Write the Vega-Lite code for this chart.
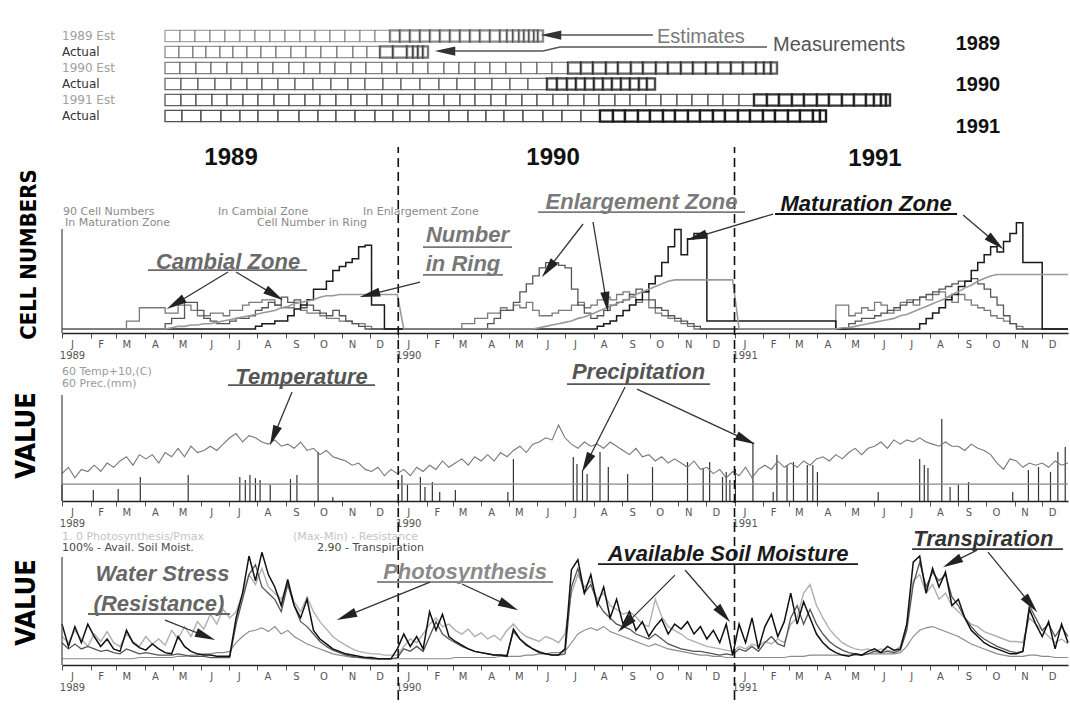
{
"$schema":"https://vega.github.io/schema/vega-lite/v6.json",
"background":"white",
"padding":{"left":11,"top":26,"right":0,"bottom":0},
"spacing":30,
"bounds":"flush",
"config":{"view":{"stroke":null},"axis":{"grid":false},"text":{"font":"Liberation Sans"}},
"datasets":{
"wk":[
{"day":0,"cz":0,"ez":0,"mz":0,"ring":0,"temp":13,"ps":0.20,"res":0.02,"soil":0.30,"tr":0.15},
{"day":7,"cz":0,"ez":0,"mz":0,"ring":0,"temp":16,"ps":0.15,"res":0.02,"soil":0.12,"tr":0.10},
{"day":14,"cz":0,"ez":0,"mz":0,"ring":0,"temp":11,"ps":0.25,"res":0.02,"soil":0.28,"tr":0.14},
{"day":21,"cz":0,"ez":0,"mz":0,"ring":0,"temp":15,"ps":0.18,"res":0.02,"soil":0.15,"tr":0.10},
{"day":28,"cz":0,"ez":0,"mz":0,"ring":0,"temp":14,"ps":0.12,"res":0.02,"soil":0.30,"tr":0.12},
{"day":35,"cz":0,"ez":0,"mz":0,"ring":0,"temp":17,"ps":0.22,"res":0.02,"soil":0.20,"tr":0.10},
{"day":42,"cz":0,"ez":0,"mz":0,"ring":0,"temp":14,"ps":0.16,"res":0.02,"soil":0.12,"tr":0.08},
{"day":49,"cz":0,"ez":0,"mz":0,"ring":0,"temp":18,"ps":0.24,"res":0.02,"soil":0.18,"tr":0.09},
{"day":56,"cz":0,"ez":0,"mz":0,"ring":0,"temp":16,"ps":0.15,"res":0.02,"soil":0.10,"tr":0.07},
{"day":63,"cz":0,"ez":0,"mz":0,"ring":0,"temp":19,"ps":0.12,"res":0.02,"soil":0.08,"tr":0.06},
{"day":70,"cz":6,"ez":0,"mz":0,"ring":0,"temp":21,"ps":0.22,"res":0.02,"soil":0.25,"tr":0.10},
{"day":77,"cz":6,"ez":0,"mz":0,"ring":0,"temp":17,"ps":0.16,"res":0.02,"soil":0.15,"tr":0.08},
{"day":84,"cz":16,"ez":0,"mz":0,"ring":0,"temp":22,"ps":0.12,"res":0.03,"soil":0.11,"tr":0.06},
{"day":91,"cz":16,"ez":0,"mz":0,"ring":0,"temp":20,"ps":0.20,"res":0.03,"soil":0.09,"tr":0.07},
{"day":98,"cz":16,"ez":0,"mz":0,"ring":0,"temp":22,"ps":0.14,"res":0.03,"soil":0.14,"tr":0.06},
{"day":105,"cz":16,"ez":0,"mz":0,"ring":0,"temp":18,"ps":0.18,"res":0.03,"soil":0.10,"tr":0.05},
{"day":112,"cz":12,"ez":4,"mz":0,"ring":0,"temp":23,"ps":0.13,"res":0.03,"soil":0.07,"tr":0.05},
{"day":119,"cz":12,"ez":8,"mz":0,"ring":1,"temp":21,"ps":0.25,"res":0.03,"soil":0.06,"tr":0.05},
{"day":126,"cz":18,"ez":8,"mz":0,"ring":2,"temp":25,"ps":0.18,"res":0.04,"soil":0.20,"tr":0.06},
{"day":133,"cz":18,"ez":20,"mz":0,"ring":2,"temp":21,"ps":0.28,"res":0.04,"soil":0.12,"tr":0.05},
{"day":140,"cz":14,"ez":20,"mz":0,"ring":3,"temp":26,"ps":0.20,"res":0.05,"soil":0.08,"tr":0.04},
{"day":147,"cz":10,"ez":14,"mz":0,"ring":3,"temp":23,"ps":0.32,"res":0.05,"soil":0.06,"tr":0.04},
{"day":154,"cz":10,"ez":8,"mz":0,"ring":4,"temp":24,"ps":0.26,"res":0.06,"soil":0.05,"tr":0.04},
{"day":161,"cz":12,"ez":6,"mz":0,"ring":4,"temp":26,"ps":0.38,"res":0.06,"soil":0.05,"tr":0.03},
{"day":168,"cz":12,"ez":4,"mz":0,"ring":5,"temp":24,"ps":0.30,"res":0.07,"soil":0.04,"tr":0.03},
{"day":175,"cz":10,"ez":4,"mz":0,"ring":6,"temp":27,"ps":0.42,"res":0.07,"soil":0.04,"tr":0.03},
{"day":182,"cz":14,"ez":6,"mz":0,"ring":7,"temp":30,"ps":0.35,"res":0.08,"soil":0.04,"tr":0.03},
{"day":189,"cz":14,"ez":8,"mz":0,"ring":8,"temp":32,"ps":0.40,"res":0.15,"soil":0.35,"tr":0.30},
{"day":196,"cz":18,"ez":8,"mz":0,"ring":9,"temp":28,"ps":0.55,"res":0.20,"soil":0.55,"tr":0.50},
{"day":203,"cz":20,"ez":10,"mz":0,"ring":10,"temp":31,"ps":0.70,"res":0.24,"soil":0.85,"tr":0.70},
{"day":210,"cz":20,"ez":14,"mz":2,"ring":11,"temp":30,"ps":0.62,"res":0.25,"soil":0.65,"tr":0.78},
{"day":217,"cz":22,"ez":16,"mz":4,"ring":12,"temp":28,"ps":0.75,"res":0.27,"soil":0.88,"tr":0.60},
{"day":224,"cz":22,"ez":20,"mz":4,"ring":13,"temp":27,"ps":0.60,"res":0.24,"soil":0.70,"tr":0.55},
{"day":231,"cz":18,"ez":18,"mz":6,"ring":14,"temp":29,"ps":0.55,"res":0.28,"soil":0.60,"tr":0.50},
{"day":238,"cz":16,"ez":24,"mz":6,"ring":16,"temp":26,"ps":0.50,"res":0.22,"soil":0.45,"tr":0.40},
{"day":245,"cz":16,"ez":20,"mz":10,"ring":17,"temp":27,"ps":0.62,"res":0.25,"soil":0.66,"tr":0.62},
{"day":252,"cz":20,"ez":22,"mz":15,"ring":19,"temp":25,"ps":0.48,"res":0.20,"soil":0.45,"tr":0.45},
{"day":259,"cz":14,"ez":16,"mz":18,"ring":20,"temp":28,"ps":0.40,"res":0.17,"soil":0.35,"tr":0.32},
{"day":266,"cz":12,"ez":18,"mz":22,"ring":21,"temp":24,"ps":0.52,"res":0.14,"soil":0.50,"tr":0.28},
{"day":273,"cz":12,"ez":14,"mz":30,"ring":22,"temp":25,"ps":0.40,"res":0.12,"soil":0.25,"tr":0.22},
{"day":280,"cz":10,"ez":12,"mz":30,"ring":24,"temp":22,"ps":0.32,"res":0.10,"soil":0.18,"tr":0.16},
{"day":287,"cz":8,"ez":10,"mz":36,"ring":25,"temp":24,"ps":0.26,"res":0.08,"soil":0.14,"tr":0.12},
{"day":294,"cz":8,"ez":14,"mz":44,"ring":25,"temp":21,"ps":0.20,"res":0.06,"soil":0.10,"tr":0.09},
{"day":301,"cz":6,"ez":10,"mz":47,"ring":26,"temp":20,"ps":0.16,"res":0.05,"soil":0.08,"tr":0.07},
{"day":308,"cz":6,"ez":6,"mz":50,"ring":26,"temp":19,"ps":0.13,"res":0.04,"soil":0.06,"tr":0.05},
{"day":315,"cz":4,"ez":4,"mz":53,"ring":26,"temp":17,"ps":0.10,"res":0.03,"soil":0.05,"tr":0.04},
{"day":322,"cz":4,"ez":2,"mz":62,"ring":26,"temp":18,"ps":0.08,"res":0.03,"soil":0.04,"tr":0.03},
{"day":329,"cz":2,"ez":0,"mz":63,"ring":26,"temp":15,"ps":0.07,"res":0.02,"soil":0.03,"tr":0.03},
{"day":336,"cz":0,"ez":0,"mz":18,"ring":26,"temp":14,"ps":0.06,"res":0.02,"soil":0.03,"tr":0.02},
{"day":343,"cz":0,"ez":0,"mz":18,"ring":26,"temp":16,"ps":0.06,"res":0.02,"soil":0.02,"tr":0.02},
{"day":350,"cz":0,"ez":0,"mz":0,"ring":26,"temp":12,"ps":0.05,"res":0.02,"soil":0.02,"tr":0.02},
{"day":357,"cz":0,"ez":0,"mz":0,"ring":26,"temp":15,"ps":0.05,"res":0.02,"soil":0.02,"tr":0.02},
{"day":364,"cz":0,"ez":0,"mz":0,"ring":26,"temp":13,"ps":0.05,"res":0.02,"soil":0.10,"tr":0.03},
{"day":371,"cz":0,"ez":0,"mz":0,"ring":0,"temp":15,"ps":0.12,"res":0.02,"soil":0.22,"tr":0.10},
{"day":378,"cz":0,"ez":0,"mz":0,"ring":0,"temp":12,"ps":0.18,"res":0.02,"soil":0.12,"tr":0.08},
{"day":385,"cz":0,"ez":0,"mz":0,"ring":0,"temp":16,"ps":0.15,"res":0.02,"soil":0.20,"tr":0.12},
{"day":392,"cz":0,"ez":0,"mz":0,"ring":0,"temp":14,"ps":0.22,"res":0.02,"soil":0.10,"tr":0.08},
{"day":399,"cz":0,"ez":0,"mz":0,"ring":0,"temp":17,"ps":0.30,"res":0.02,"soil":0.40,"tr":0.20},
{"day":406,"cz":0,"ez":0,"mz":0,"ring":0,"temp":15,"ps":0.35,"res":0.02,"soil":0.25,"tr":0.32},
{"day":413,"cz":0,"ez":0,"mz":0,"ring":0,"temp":19,"ps":0.28,"res":0.02,"soil":0.38,"tr":0.22},
{"day":420,"cz":0,"ez":0,"mz":0,"ring":0,"temp":16,"ps":0.30,"res":0.02,"soil":0.20,"tr":0.18},
{"day":427,"cz":0,"ez":0,"mz":0,"ring":0,"temp":18,"ps":0.25,"res":0.03,"soil":0.16,"tr":0.15},
{"day":434,"cz":4,"ez":0,"mz":0,"ring":0,"temp":20,"ps":0.22,"res":0.03,"soil":0.13,"tr":0.12},
{"day":441,"cz":4,"ez":0,"mz":0,"ring":0,"temp":17,"ps":0.26,"res":0.03,"soil":0.10,"tr":0.10},
{"day":448,"cz":8,"ez":0,"mz":0,"ring":0,"temp":21,"ps":0.20,"res":0.03,"soil":0.08,"tr":0.08},
{"day":455,"cz":8,"ez":0,"mz":0,"ring":0,"temp":19,"ps":0.23,"res":0.03,"soil":0.07,"tr":0.07},
{"day":462,"cz":12,"ez":4,"mz":0,"ring":0,"temp":22,"ps":0.18,"res":0.03,"soil":0.06,"tr":0.06},
{"day":469,"cz":12,"ez":8,"mz":0,"ring":0,"temp":19,"ps":0.21,"res":0.03,"soil":0.05,"tr":0.05},
{"day":476,"cz":16,"ez":14,"mz":0,"ring":0,"temp":23,"ps":0.17,"res":0.04,"soil":0.05,"tr":0.05},
{"day":483,"cz":14,"ez":14,"mz":0,"ring":0,"temp":21,"ps":0.25,"res":0.04,"soil":0.04,"tr":0.05},
{"day":490,"cz":18,"ez":20,"mz":0,"ring":0,"temp":24,"ps":0.30,"res":0.04,"soil":0.26,"tr":0.24},
{"day":497,"cz":16,"ez":28,"mz":0,"ring":0,"temp":26,"ps":0.24,"res":0.04,"soil":0.18,"tr":0.18},
{"day":504,"cz":20,"ez":34,"mz":0,"ring":0,"temp":23,"ps":0.20,"res":0.05,"soil":0.13,"tr":0.14},
{"day":511,"cz":14,"ez":40,"mz":0,"ring":0,"temp":27,"ps":0.18,"res":0.05,"soil":0.10,"tr":0.10},
{"day":518,"cz":10,"ez":46,"mz":0,"ring":1,"temp":28,"ps":0.16,"res":0.06,"soil":0.07,"tr":0.08},
{"day":525,"cz":10,"ez":50,"mz":0,"ring":2,"temp":30,"ps":0.20,"res":0.06,"soil":0.06,"tr":0.06},
{"day":532,"cz":12,"ez":50,"mz":0,"ring":3,"temp":29,"ps":0.18,"res":0.07,"soil":0.05,"tr":0.05},
{"day":539,"cz":14,"ez":48,"mz":0,"ring":4,"temp":36,"ps":0.15,"res":0.07,"soil":0.05,"tr":0.05},
{"day":546,"cz":14,"ez":46,"mz":0,"ring":5,"temp":30,"ps":0.22,"res":0.08,"soil":0.10,"tr":0.06},
{"day":553,"cz":18,"ez":30,"mz":0,"ring":6,"temp":27,"ps":0.55,"res":0.15,"soil":0.74,"tr":0.60},
{"day":560,"cz":20,"ez":18,"mz":0,"ring":8,"temp":25,"ps":0.70,"res":0.22,"soil":0.82,"tr":0.75},
{"day":567,"cz":16,"ez":12,"mz":0,"ring":9,"temp":28,"ps":0.60,"res":0.25,"soil":0.55,"tr":0.55},
{"day":574,"cz":18,"ez":8,"mz":0,"ring":11,"temp":26,"ps":0.65,"res":0.27,"soil":0.70,"tr":0.62},
{"day":581,"cz":22,"ez":10,"mz":2,"ring":13,"temp":27,"ps":0.50,"res":0.25,"soil":0.45,"tr":0.48},
{"day":588,"cz":24,"ez":14,"mz":4,"ring":15,"temp":25,"ps":0.55,"res":0.28,"soil":0.60,"tr":0.40},
{"day":595,"cz":22,"ez":18,"mz":6,"ring":17,"temp":28,"ps":0.45,"res":0.24,"soil":0.35,"tr":0.35},
{"day":602,"cz":26,"ez":20,"mz":10,"ring":19,"temp":26,"ps":0.42,"res":0.22,"soil":0.50,"tr":0.30},
{"day":609,"cz":28,"ez":22,"mz":14,"ring":21,"temp":24,"ps":0.38,"res":0.20,"soil":0.30,"tr":0.28},
{"day":616,"cz":24,"ez":26,"mz":18,"ring":23,"temp":22,"ps":0.40,"res":0.18,"soil":0.40,"tr":0.26},
{"day":623,"cz":20,"ez":30,"mz":22,"ring":26,"temp":25,"ps":0.36,"res":0.16,"soil":0.25,"tr":0.22},
{"day":630,"cz":22,"ez":28,"mz":28,"ring":28,"temp":21,"ps":0.30,"res":0.14,"soil":0.32,"tr":0.20},
{"day":637,"cz":16,"ez":22,"mz":34,"ring":30,"temp":22,"ps":0.28,"res":0.12,"soil":0.20,"tr":0.18},
{"day":644,"cz":12,"ez":16,"mz":40,"ring":32,"temp":19,"ps":0.50,"res":0.14,"soil":0.28,"tr":0.22},
{"day":651,"cz":10,"ez":14,"mz":50,"ring":34,"temp":21,"ps":0.36,"res":0.12,"soil":0.34,"tr":0.18},
{"day":658,"cz":8,"ez":10,"mz":62,"ring":36,"temp":18,"ps":0.28,"res":0.10,"soil":0.22,"tr":0.14},
{"day":665,"cz":6,"ez":8,"mz":75,"ring":37,"temp":20,"ps":0.25,"res":0.09,"soil":0.30,"tr":0.12},
{"day":672,"cz":4,"ez":6,"mz":56,"ring":37,"temp":18,"ps":0.22,"res":0.08,"soil":0.26,"tr":0.10},
{"day":679,"cz":2,"ez":4,"mz":68,"ring":37,"temp":16,"ps":0.18,"res":0.07,"soil":0.32,"tr":0.09},
{"day":686,"cz":0,"ez":2,"mz":72,"ring":37,"temp":19,"ps":0.16,"res":0.06,"soil":0.22,"tr":0.08},
{"day":693,"cz":0,"ez":0,"mz":72,"ring":37,"temp":15,"ps":0.14,"res":0.05,"soil":0.28,"tr":0.08},
{"day":700,"cz":0,"ez":0,"mz":6,"ring":37,"temp":16,"ps":0.12,"res":0.05,"soil":0.18,"tr":0.07},
{"day":707,"cz":0,"ez":0,"mz":6,"ring":37,"temp":13,"ps":0.11,"res":0.04,"soil":0.25,"tr":0.06},
{"day":714,"cz":0,"ez":0,"mz":6,"ring":37,"temp":15,"ps":0.10,"res":0.04,"soil":0.15,"tr":0.05},
{"day":721,"cz":0,"ez":0,"mz":6,"ring":37,"temp":11,"ps":0.09,"res":0.03,"soil":0.30,"tr":0.06},
{"day":728,"cz":0,"ez":0,"mz":6,"ring":37,"temp":14,"ps":0.08,"res":0.03,"soil":0.05,"tr":0.05},
{"day":735,"cz":0,"ez":0,"mz":6,"ring":0,"temp":12,"ps":0.12,"res":0.03,"soil":0.30,"tr":0.10},
{"day":742,"cz":0,"ez":0,"mz":6,"ring":0,"temp":16,"ps":0.10,"res":0.03,"soil":0.15,"tr":0.08},
{"day":749,"cz":0,"ez":0,"mz":6,"ring":0,"temp":11,"ps":0.14,"res":0.03,"soil":0.35,"tr":0.12},
{"day":756,"cz":0,"ez":0,"mz":6,"ring":0,"temp":15,"ps":0.12,"res":0.03,"soil":0.10,"tr":0.08},
{"day":763,"cz":0,"ez":0,"mz":6,"ring":0,"temp":17,"ps":0.16,"res":0.03,"soil":0.28,"tr":0.15},
{"day":770,"cz":0,"ez":0,"mz":6,"ring":0,"temp":15,"ps":0.14,"res":0.03,"soil":0.38,"tr":0.20},
{"day":777,"cz":0,"ez":0,"mz":6,"ring":0,"temp":19,"ps":0.18,"res":0.03,"soil":0.20,"tr":0.14},
{"day":784,"cz":0,"ez":0,"mz":6,"ring":0,"temp":16,"ps":0.15,"res":0.03,"soil":0.32,"tr":0.12},
{"day":791,"cz":0,"ez":0,"mz":6,"ring":0,"temp":18,"ps":0.30,"res":0.04,"soil":0.55,"tr":0.35},
{"day":798,"cz":0,"ez":0,"mz":6,"ring":0,"temp":16,"ps":0.35,"res":0.04,"soil":0.30,"tr":0.45},
{"day":805,"cz":0,"ez":0,"mz":6,"ring":0,"temp":19,"ps":0.55,"res":0.04,"soil":0.48,"tr":0.30},
{"day":812,"cz":0,"ez":0,"mz":6,"ring":0,"temp":17,"ps":0.62,"res":0.05,"soil":0.35,"tr":0.42},
{"day":819,"cz":0,"ez":0,"mz":6,"ring":0,"temp":20,"ps":0.45,"res":0.05,"soil":0.22,"tr":0.30},
{"day":826,"cz":0,"ez":0,"mz":6,"ring":0,"temp":21,"ps":0.35,"res":0.05,"soil":0.15,"tr":0.22},
{"day":833,"cz":0,"ez":0,"mz":6,"ring":0,"temp":19,"ps":0.26,"res":0.05,"soil":0.10,"tr":0.16},
{"day":840,"cz":18,"ez":0,"mz":0,"ring":0,"temp":22,"ps":0.20,"res":0.05,"soil":0.07,"tr":0.12},
{"day":847,"cz":18,"ez":0,"mz":0,"ring":1,"temp":20,"ps":0.15,"res":0.05,"soil":0.05,"tr":0.09},
{"day":854,"cz":10,"ez":4,"mz":0,"ring":1,"temp":23,"ps":0.12,"res":0.05,"soil":0.04,"tr":0.07},
{"day":861,"cz":12,"ez":6,"mz":0,"ring":2,"temp":25,"ps":0.10,"res":0.05,"soil":0.06,"tr":0.06},
{"day":868,"cz":16,"ez":8,"mz":0,"ring":3,"temp":22,"ps":0.09,"res":0.05,"soil":0.05,"tr":0.05},
{"day":875,"cz":14,"ez":8,"mz":0,"ring":4,"temp":25,"ps":0.10,"res":0.06,"soil":0.08,"tr":0.06},
{"day":882,"cz":20,"ez":10,"mz":0,"ring":5,"temp":26,"ps":0.08,"res":0.06,"soil":0.10,"tr":0.08},
{"day":889,"cz":18,"ez":12,"mz":0,"ring":6,"temp":28,"ps":0.10,"res":0.06,"soil":0.07,"tr":0.07},
{"day":896,"cz":12,"ez":14,"mz":0,"ring":7,"temp":25,"ps":0.09,"res":0.06,"soil":0.12,"tr":0.08},
{"day":903,"cz":14,"ez":16,"mz":0,"ring":8,"temp":29,"ps":0.08,"res":0.06,"soil":0.09,"tr":0.07},
{"day":910,"cz":20,"ez":18,"mz":0,"ring":10,"temp":27,"ps":0.12,"res":0.07,"soil":0.10,"tr":0.09},
{"day":917,"cz":22,"ez":20,"mz":0,"ring":11,"temp":29,"ps":0.30,"res":0.12,"soil":0.30,"tr":0.25},
{"day":924,"cz":18,"ez":22,"mz":0,"ring":13,"temp":28,"ps":0.65,"res":0.20,"soil":0.80,"tr":0.62},
{"day":931,"cz":24,"ez":24,"mz":4,"ring":15,"temp":30,"ps":0.70,"res":0.25,"soil":0.85,"tr":0.80},
{"day":938,"cz":22,"ez":26,"mz":8,"ring":17,"temp":28,"ps":0.55,"res":0.27,"soil":0.55,"tr":0.60},
{"day":945,"cz":26,"ez":28,"mz":12,"ring":19,"temp":27,"ps":0.62,"res":0.28,"soil":0.75,"tr":0.72},
{"day":952,"cz":28,"ez":30,"mz":16,"ring":21,"temp":26,"ps":0.50,"res":0.26,"soil":0.60,"tr":0.65},
{"day":959,"cz":24,"ez":32,"mz":22,"ring":23,"temp":28,"ps":0.55,"res":0.24,"soil":0.72,"tr":0.70},
{"day":966,"cz":20,"ez":34,"mz":26,"ring":26,"temp":26,"ps":0.45,"res":0.22,"soil":0.45,"tr":0.52},
{"day":973,"cz":26,"ez":36,"mz":32,"ring":28,"temp":26,"ps":0.40,"res":0.20,"soil":0.50,"tr":0.45},
{"day":980,"cz":22,"ez":36,"mz":36,"ring":31,"temp":24,"ps":0.35,"res":0.17,"soil":0.35,"tr":0.35},
{"day":987,"cz":18,"ez":38,"mz":44,"ring":33,"temp":27,"ps":0.30,"res":0.14,"soil":0.25,"tr":0.28},
{"day":994,"cz":16,"ez":34,"mz":50,"ring":36,"temp":25,"ps":0.28,"res":0.12,"soil":0.20,"tr":0.22},
{"day":1001,"cz":14,"ez":30,"mz":56,"ring":38,"temp":24,"ps":0.24,"res":0.10,"soil":0.15,"tr":0.18},
{"day":1008,"cz":10,"ez":24,"mz":62,"ring":40,"temp":22,"ps":0.22,"res":0.08,"soil":0.12,"tr":0.15},
{"day":1015,"cz":8,"ez":18,"mz":58,"ring":41,"temp":18,"ps":0.20,"res":0.06,"soil":0.10,"tr":0.12},
{"day":1022,"cz":6,"ez":10,"mz":66,"ring":41,"temp":15,"ps":0.18,"res":0.05,"soil":0.08,"tr":0.10},
{"day":1029,"cz":4,"ez":4,"mz":72,"ring":41,"temp":20,"ps":0.16,"res":0.04,"soil":0.06,"tr":0.08},
{"day":1036,"cz":2,"ez":0,"mz":80,"ring":41,"temp":19,"ps":0.16,"res":0.04,"soil":0.06,"tr":0.07},
{"day":1043,"cz":0,"ez":0,"mz":50,"ring":41,"temp":16,"ps":0.15,"res":0.04,"soil":0.08,"tr":0.08},
{"day":1050,"cz":0,"ez":0,"mz":50,"ring":41,"temp":18,"ps":0.35,"res":0.05,"soil":0.42,"tr":0.45},
{"day":1057,"cz":0,"ez":0,"mz":50,"ring":41,"temp":17,"ps":0.30,"res":0.05,"soil":0.30,"tr":0.35},
{"day":1064,"cz":0,"ez":0,"mz":0,"ring":41,"temp":18,"ps":0.25,"res":0.04,"soil":0.20,"tr":0.25},
{"day":1071,"cz":0,"ez":0,"mz":0,"ring":41,"temp":16,"ps":0.20,"res":0.04,"soil":0.32,"tr":0.30},
{"day":1078,"cz":0,"ez":0,"mz":0,"ring":41,"temp":19,"ps":0.15,"res":0.03,"soil":0.10,"tr":0.20},
{"day":1085,"cz":0,"ez":0,"mz":0,"ring":41,"temp":17,"ps":0.18,"res":0.03,"soil":0.30,"tr":0.28},
{"day":1092,"cz":0,"ez":0,"mz":0,"ring":41,"temp":18,"ps":0.14,"res":0.03,"soil":0.15,"tr":0.20}
],
"prec":[
{"day":0,"prec":7.6},{"day":34,"prec":5.2},{"day":61,"prec":5.7},{"day":85,"prec":11.4},{"day":137,"prec":12.3},
{"day":193,"prec":11.4},{"day":199,"prec":10},{"day":204,"prec":12.3},{"day":210,"prec":10.9},{"day":215,"prec":10},
{"day":226,"prec":7.6},{"day":248,"prec":10.4},{"day":255,"prec":12.3},{"day":278,"prec":23.2},{"day":294,"prec":1.9},
{"day":369,"prec":12.3},{"day":375,"prec":7.6},{"day":389,"prec":11.4},{"day":394,"prec":6.6},{"day":402,"prec":9},
{"day":410,"prec":4.3},{"day":427,"prec":5.2},{"day":484,"prec":4.3},{"day":490,"prec":19.9},{"day":555,"prec":20.9},
{"day":559,"prec":17.6},{"day":565,"prec":14.7},{"day":570,"prec":12.8},{"day":584,"prec":23.2},{"day":593,"prec":16.1},
{"day":614,"prec":12.8},{"day":641,"prec":16.1},{"day":679,"prec":18.5},{"day":696,"prec":15.2},{"day":703,"prec":18.5},
{"day":717,"prec":11.4},{"day":721,"prec":13.8},{"day":725,"prec":10},{"day":731,"prec":15.2},{"day":750,"prec":28},
{"day":772,"prec":4.3},{"day":776,"prec":21.8},{"day":787,"prec":17.1},{"day":794,"prec":18.5},{"day":809,"prec":17.1},
{"day":815,"prec":17.1},{"day":820,"prec":13.8},{"day":886,"prec":4.3},{"day":931,"prec":19.9},{"day":936,"prec":17.1},
{"day":940,"prec":15.7},{"day":955,"prec":38.9},{"day":964,"prec":6.6},{"day":973,"prec":7.6},{"day":984,"prec":9},
{"day":1032,"prec":4.3},{"day":1049,"prec":14.7},{"day":1060,"prec":16.1},{"day":1073,"prec":13.8},{"day":1081,"prec":23.2},
{"day":1089,"prec":25.6}
],
"cells":[
{"row":"r1","i":1,"w":15,"wood":"early"},{"row":"r1","i":2,"w":15,"wood":"early"},{"row":"r1","i":3,"w":15,"wood":"early"},{"row":"r1","i":4,"w":15,"wood":"early"},{"row":"r1","i":5,"w":15,"wood":"early"},{"row":"r1","i":6,"w":15,"wood":"early"},{"row":"r1","i":7,"w":15,"wood":"early"},{"row":"r1","i":8,"w":15,"wood":"early"},{"row":"r1","i":9,"w":15,"wood":"early"},{"row":"r1","i":10,"w":15,"wood":"early"},{"row":"r1","i":11,"w":15,"wood":"early"},{"row":"r1","i":12,"w":15,"wood":"early"},{"row":"r1","i":13,"w":15,"wood":"early"},{"row":"r1","i":14,"w":15,"wood":"early"},{"row":"r1","i":15,"w":15,"wood":"early"},
{"row":"r1","i":16,"w":10,"wood":"late"},{"row":"r1","i":17,"w":10,"wood":"late"},{"row":"r1","i":18,"w":10,"wood":"late"},{"row":"r1","i":19,"w":10,"wood":"late"},{"row":"r1","i":20,"w":10,"wood":"late"},{"row":"r1","i":21,"w":10,"wood":"late"},{"row":"r1","i":22,"w":10,"wood":"late"},{"row":"r1","i":23,"w":10,"wood":"late"},{"row":"r1","i":24,"w":10,"wood":"late"},{"row":"r1","i":25,"w":10,"wood":"late"},{"row":"r1","i":26,"w":10,"wood":"late"},
{"row":"r1","i":27,"w":7,"wood":"late"},{"row":"r1","i":28,"w":6,"wood":"late"},{"row":"r1","i":29,"w":6,"wood":"late"},{"row":"r1","i":30,"w":5,"wood":"late"},{"row":"r1","i":31,"w":5,"wood":"late"},{"row":"r1","i":32,"w":5,"wood":"late"},{"row":"r1","i":33,"w":4,"wood":"late"},{"row":"r1","i":34,"w":5,"wood":"late"},
{"row":"r2","i":1,"w":14,"wood":"early"},{"row":"r2","i":2,"w":14,"wood":"early"},{"row":"r2","i":3,"w":13,"wood":"early"},{"row":"r2","i":4,"w":14,"wood":"early"},{"row":"r2","i":5,"w":13,"wood":"early"},{"row":"r2","i":6,"w":14,"wood":"early"},{"row":"r2","i":7,"w":14,"wood":"early"},{"row":"r2","i":8,"w":15,"wood":"early"},{"row":"r2","i":9,"w":15,"wood":"early"},{"row":"r2","i":10,"w":15,"wood":"early"},{"row":"r2","i":11,"w":15,"wood":"early"},{"row":"r2","i":12,"w":16,"wood":"early"},{"row":"r2","i":13,"w":16,"wood":"early"},{"row":"r2","i":14,"w":14,"wood":"early"},{"row":"r2","i":15,"w":13,"wood":"early"},
{"row":"r2","i":16,"w":13,"wood":"late"},{"row":"r2","i":17,"w":14,"wood":"late"},{"row":"r2","i":18,"w":6,"wood":"late"},{"row":"r2","i":19,"w":5,"wood":"late"},{"row":"r2","i":20,"w":5,"wood":"late"},{"row":"r2","i":21,"w":5,"wood":"late"},
{"row":"r3","i":1,"w":15,"wood":"early"},{"row":"r3","i":2,"w":16,"wood":"early"},{"row":"r3","i":3,"w":15,"wood":"early"},{"row":"r3","i":4,"w":16,"wood":"early"},{"row":"r3","i":5,"w":15,"wood":"early"},{"row":"r3","i":6,"w":16,"wood":"early"},{"row":"r3","i":7,"w":15,"wood":"early"},{"row":"r3","i":8,"w":16,"wood":"early"},{"row":"r3","i":9,"w":15,"wood":"early"},{"row":"r3","i":10,"w":16,"wood":"early"},{"row":"r3","i":11,"w":15,"wood":"early"},{"row":"r3","i":12,"w":16,"wood":"early"},{"row":"r3","i":13,"w":15,"wood":"early"},{"row":"r3","i":14,"w":16,"wood":"early"},{"row":"r3","i":15,"w":15,"wood":"early"},{"row":"r3","i":16,"w":16,"wood":"early"},{"row":"r3","i":17,"w":15,"wood":"early"},{"row":"r3","i":18,"w":16,"wood":"early"},{"row":"r3","i":19,"w":15,"wood":"early"},{"row":"r3","i":20,"w":16,"wood":"early"},{"row":"r3","i":21,"w":15,"wood":"early"},{"row":"r3","i":22,"w":16,"wood":"early"},{"row":"r3","i":23,"w":15,"wood":"early"},{"row":"r3","i":24,"w":16,"wood":"early"},{"row":"r3","i":25,"w":15,"wood":"early"},{"row":"r3","i":26,"w":16,"wood":"early"},
{"row":"r3","i":27,"w":13,"wood":"late"},{"row":"r3","i":28,"w":12,"wood":"late"},{"row":"r3","i":29,"w":13,"wood":"late"},{"row":"r3","i":30,"w":12,"wood":"late"},{"row":"r3","i":31,"w":13,"wood":"late"},{"row":"r3","i":32,"w":12,"wood":"late"},{"row":"r3","i":33,"w":13,"wood":"late"},{"row":"r3","i":34,"w":12,"wood":"late"},{"row":"r3","i":35,"w":13,"wood":"late"},{"row":"r3","i":36,"w":12,"wood":"late"},{"row":"r3","i":37,"w":13,"wood":"late"},{"row":"r3","i":38,"w":12,"wood":"late"},{"row":"r3","i":39,"w":13,"wood":"late"},{"row":"r3","i":40,"w":12,"wood":"late"},{"row":"r3","i":41,"w":13,"wood":"late"},{"row":"r3","i":42,"w":8,"wood":"late"},{"row":"r3","i":43,"w":7,"wood":"late"},{"row":"r3","i":44,"w":6,"wood":"late"},
{"row":"r4","i":1,"w":16,"wood":"early"},{"row":"r4","i":2,"w":17,"wood":"early"},{"row":"r4","i":3,"w":17,"wood":"early"},{"row":"r4","i":4,"w":16,"wood":"early"},{"row":"r4","i":5,"w":16,"wood":"early"},{"row":"r4","i":6,"w":15,"wood":"early"},{"row":"r4","i":7,"w":16,"wood":"early"},{"row":"r4","i":8,"w":17,"wood":"early"},{"row":"r4","i":9,"w":18,"wood":"early"},{"row":"r4","i":10,"w":18,"wood":"early"},{"row":"r4","i":11,"w":17,"wood":"early"},{"row":"r4","i":12,"w":17,"wood":"early"},{"row":"r4","i":13,"w":18,"wood":"early"},{"row":"r4","i":14,"w":18,"wood":"early"},{"row":"r4","i":15,"w":19,"wood":"early"},{"row":"r4","i":16,"w":19,"wood":"early"},{"row":"r4","i":17,"w":18,"wood":"early"},{"row":"r4","i":18,"w":18,"wood":"early"},{"row":"r4","i":19,"w":17,"wood":"early"},{"row":"r4","i":20,"w":18,"wood":"early"},{"row":"r4","i":21,"w":18,"wood":"early"},{"row":"r4","i":22,"w":19,"wood":"early"},
{"row":"r4","i":23,"w":10,"wood":"late"},{"row":"r4","i":24,"w":10,"wood":"late"},{"row":"r4","i":25,"w":9,"wood":"late"},{"row":"r4","i":26,"w":9,"wood":"late"},{"row":"r4","i":27,"w":9,"wood":"late"},{"row":"r4","i":28,"w":9,"wood":"late"},{"row":"r4","i":29,"w":9,"wood":"late"},{"row":"r4","i":30,"w":9,"wood":"late"},{"row":"r4","i":31,"w":9,"wood":"late"},{"row":"r4","i":32,"w":9,"wood":"late"},{"row":"r4","i":33,"w":8,"wood":"late"},{"row":"r4","i":34,"w":8,"wood":"late"},
{"row":"r5","i":1,"w":16,"wood":"early"},{"row":"r5","i":2,"w":15,"wood":"early"},{"row":"r5","i":3,"w":16,"wood":"early"},{"row":"r5","i":4,"w":15,"wood":"early"},{"row":"r5","i":5,"w":16,"wood":"early"},{"row":"r5","i":6,"w":15,"wood":"early"},{"row":"r5","i":7,"w":16,"wood":"early"},{"row":"r5","i":8,"w":15,"wood":"early"},{"row":"r5","i":9,"w":16,"wood":"early"},{"row":"r5","i":10,"w":15,"wood":"early"},{"row":"r5","i":11,"w":16,"wood":"early"},{"row":"r5","i":12,"w":15,"wood":"early"},{"row":"r5","i":13,"w":16,"wood":"early"},{"row":"r5","i":14,"w":15,"wood":"early"},{"row":"r5","i":15,"w":16,"wood":"early"},{"row":"r5","i":16,"w":15,"wood":"early"},{"row":"r5","i":17,"w":16,"wood":"early"},{"row":"r5","i":18,"w":15,"wood":"early"},{"row":"r5","i":19,"w":16,"wood":"early"},{"row":"r5","i":20,"w":15,"wood":"early"},{"row":"r5","i":21,"w":16,"wood":"early"},{"row":"r5","i":22,"w":15,"wood":"early"},{"row":"r5","i":23,"w":16,"wood":"early"},{"row":"r5","i":24,"w":15,"wood":"early"},{"row":"r5","i":25,"w":16,"wood":"early"},{"row":"r5","i":26,"w":15,"wood":"early"},{"row":"r5","i":27,"w":16,"wood":"early"},{"row":"r5","i":28,"w":15,"wood":"early"},{"row":"r5","i":29,"w":16,"wood":"early"},{"row":"r5","i":30,"w":15,"wood":"early"},{"row":"r5","i":31,"w":16,"wood":"early"},{"row":"r5","i":32,"w":15,"wood":"early"},{"row":"r5","i":33,"w":16,"wood":"early"},{"row":"r5","i":34,"w":15,"wood":"early"},{"row":"r5","i":35,"w":16,"wood":"early"},{"row":"r5","i":36,"w":15,"wood":"early"},{"row":"r5","i":37,"w":16,"wood":"early"},{"row":"r5","i":38,"w":15,"wood":"early"},
{"row":"r5","i":39,"w":13,"wood":"late"},{"row":"r5","i":40,"w":12,"wood":"late"},{"row":"r5","i":41,"w":13,"wood":"late"},{"row":"r5","i":42,"w":12,"wood":"late"},{"row":"r5","i":43,"w":13,"wood":"late"},{"row":"r5","i":44,"w":12,"wood":"late"},{"row":"r5","i":45,"w":13,"wood":"late"},{"row":"r5","i":46,"w":12,"wood":"late"},{"row":"r5","i":47,"w":12,"wood":"late"},{"row":"r5","i":48,"w":8,"wood":"late"},{"row":"r5","i":49,"w":7,"wood":"late"},{"row":"r5","i":50,"w":5,"wood":"late"},{"row":"r5","i":51,"w":4,"wood":"late"},
{"row":"r6","i":1,"w":17,"wood":"early"},{"row":"r6","i":2,"w":19,"wood":"early"},{"row":"r6","i":3,"w":20,"wood":"early"},{"row":"r6","i":4,"w":19,"wood":"early"},{"row":"r6","i":5,"w":18,"wood":"early"},{"row":"r6","i":6,"w":20,"wood":"early"},{"row":"r6","i":7,"w":21,"wood":"early"},{"row":"r6","i":8,"w":19,"wood":"early"},{"row":"r6","i":9,"w":18,"wood":"early"},{"row":"r6","i":10,"w":19,"wood":"early"},{"row":"r6","i":11,"w":20,"wood":"early"},{"row":"r6","i":12,"w":18,"wood":"early"},{"row":"r6","i":13,"w":17,"wood":"early"},{"row":"r6","i":14,"w":19,"wood":"early"},{"row":"r6","i":15,"w":20,"wood":"early"},{"row":"r6","i":16,"w":19,"wood":"early"},{"row":"r6","i":17,"w":18,"wood":"early"},{"row":"r6","i":18,"w":18,"wood":"early"},{"row":"r6","i":19,"w":19,"wood":"early"},{"row":"r6","i":20,"w":20,"wood":"early"},{"row":"r6","i":21,"w":19,"wood":"early"},{"row":"r6","i":22,"w":19,"wood":"early"},{"row":"r6","i":23,"w":19,"wood":"early"},
{"row":"r6","i":24,"w":13,"wood":"late"},{"row":"r6","i":25,"w":12,"wood":"late"},{"row":"r6","i":26,"w":13,"wood":"late"},{"row":"r6","i":27,"w":12,"wood":"late"},{"row":"r6","i":28,"w":13,"wood":"late"},{"row":"r6","i":29,"w":12,"wood":"late"},{"row":"r6","i":30,"w":13,"wood":"late"},{"row":"r6","i":31,"w":12,"wood":"late"},{"row":"r6","i":32,"w":13,"wood":"late"},{"row":"r6","i":33,"w":12,"wood":"late"},{"row":"r6","i":34,"w":13,"wood":"late"},{"row":"r6","i":35,"w":12,"wood":"late"},{"row":"r6","i":36,"w":13,"wood":"late"},{"row":"r6","i":37,"w":12,"wood":"late"},{"row":"r6","i":38,"w":13,"wood":"late"},{"row":"r6","i":39,"w":12,"wood":"late"},{"row":"r6","i":40,"w":13,"wood":"late"},{"row":"r6","i":41,"w":7,"wood":"late"},{"row":"r6","i":42,"w":6,"wood":"late"}
]
},
"vconcat":[
{
"width":1006,"height":96,
"resolve":{"scale":{"y":"independent","color":"independent"}},
"layer":[
{"data":{"name":"cells"},"mark":{"type":"bar","fill":"#ffffff"},
 "encoding":{
  "y":{"field":"row","type":"nominal","scale":{"domain":["r1","r2","r3","r4","r5","r6"],"paddingInner":0.3,"paddingOuter":0.15},"axis":null},
  "x":{"field":"w","type":"quantitative","stack":"zero","scale":{"domain":[-103,903],"nice":false,"zero":false},"axis":null},
  "order":{"field":"i","type":"quantitative"},
  "detail":{"field":"i","type":"quantitative"},
  "stroke":{"field":"wood","type":"nominal","scale":{"domain":["early","late"],"range":["#505050","#1e1e1e"]},"legend":null},
  "strokeWidth":{"field":"wood","type":"nominal","scale":{"domain":["early","late"],"range":[1.4,2.4]},"legend":null},
  "strokeOpacity":{"field":"row","type":"nominal","scale":{"domain":["r1","r2","r3","r4","r5","r6"],"range":[0.5,1,0.5,1,0.5,1]},"legend":null}
 }},
{"data":{"values":[{"x":-103,"pos":0.5,"label":"1989 Est"},{"x":-103,"pos":1.5,"label":"Actual"},{"x":-103,"pos":2.5,"label":"1990 Est"},{"x":-103,"pos":3.5,"label":"Actual"},{"x":-103,"pos":4.5,"label":"1991 Est"},{"x":-103,"pos":5.5,"label":"Actual"}]},
 "mark":{"type":"text","align":"left","baseline":"middle","font":"DejaVu Sans","fontSize":12},
 "encoding":{"x":{"field":"x","type":"quantitative"},"y":{"field":"pos","type":"quantitative","scale":{"domain":[0,6],"reverse":true,"nice":false,"zero":false},"axis":null},"text":{"field":"label"},
  "color":{"field":"label","type":"nominal","scale":{"domain":["1989 Est","1990 Est","1991 Est","Actual"],"range":["#a0a0a0","#a0a0a0","#a0a0a0","#333333"]},"legend":null}}},
{"data":{"values":[{"x":492,"pos":0.55,"label":"Estimates"},{"x":608,"pos":1.06,"label":"Measurements"}]},
 "mark":{"type":"text","align":"left","baseline":"middle","font":"Liberation Sans","fontSize":20},
 "encoding":{"x":{"field":"x","type":"quantitative"},"y":{"field":"pos","type":"quantitative","scale":{"domain":[0,6],"reverse":true,"nice":false,"zero":false},"axis":null},"text":{"field":"label"},
  "color":{"field":"label","type":"nominal","scale":{"domain":["Estimates","Measurements"],"range":["#7a7a7a","#555555"]},"legend":null}}},
{"data":{"values":[{"x":813,"pos":1.0,"label":"1989"},{"x":813,"pos":3.56,"label":"1990"},{"x":813,"pos":6.19,"label":"1991"}]},
 "mark":{"type":"text","align":"center","baseline":"middle","font":"Liberation Sans","fontWeight":"bold","fontSize":20,"color":"#111"},
 "encoding":{"x":{"field":"x","type":"quantitative"},"y":{"field":"pos","type":"quantitative","scale":{"domain":[0,6],"reverse":true,"nice":false,"zero":false},"axis":null},"text":{"field":"label"}}},
{"data":{"values":[{"x":386,"pos":0.44,"x2":488,"pos2":0.44},{"x":280,"pos":1.44,"x2":378,"pos2":1.44},{"x":378,"pos":1.44,"x2":395,"pos2":1.19},{"x":395,"pos":1.19,"x2":602,"pos2":1.19}]},
 "mark":{"type":"rule","color":"#555","strokeWidth":1.4},
 "encoding":{"x":{"field":"x","type":"quantitative"},"x2":{"field":"x2"},"y":{"field":"pos","type":"quantitative","scale":{"domain":[0,6],"reverse":true,"nice":false,"zero":false},"axis":null},"y2":{"field":"pos2"}}},
{"data":{"values":[{"x":386,"pos":0.44,"dir":270},{"x":280,"pos":1.44,"dir":270}]},
 "mark":{"type":"point","shape":"M0,-1L0.45,1L-0.45,1Z","filled":true,"size":420,"color":"#333","opacity":1},
 "encoding":{"x":{"field":"x","type":"quantitative"},"y":{"field":"pos","type":"quantitative","scale":{"domain":[0,6],"reverse":true,"nice":false,"zero":false},"axis":null},"angle":{"field":"dir","type":"quantitative","scale":null}}}
]
},
{
"width":1006,"height":179,
"resolve":{"scale":{"color":"independent"}},
"layer":[
{"data":{"name":"wk"},"mark":{"type":"line","interpolate":"step-after","color":"#7a7a7a","strokeWidth":1.3},
 "encoding":{
  "x":{"field":"day","type":"quantitative","scale":{"domain":[0,1092],"nice":false,"zero":false},
   "axis":{"values":[0,31,59,90,120,151,181,212,243,273,304,334,365,396,424,455,485,516,546,577,608,638,669,699,730,761,789,820,850,881,911,942,973,1003,1034,1064],"tickCount":40,"labelExpr":"month(datetime(1989,0,1+datum.value))==0 ? ['J', '' + year(datetime(1989,0,1+datum.value))] : substring(timeFormat(datetime(1989,0,1+datum.value),'%b'),0,1)","labelOffset":10,"labelFlush":false,"labelOverlap":false,"labelAlign":"center","labelBaseline":"top","labelPadding":1,"labelLineHeight":11,"labelFont":"DejaVu Sans","labelFontSize":10,"labelColor":"#555","tickSize":5,"tickColor":"#555","domainColor":"#222","domainWidth":1.6,"title":null,"grid":false}},
  "y":{"field":"cz","type":"quantitative","scale":{"domain":[-3,131.8],"nice":false,"zero":false},
   "axis":{"title":"CELL NUMBERS","labels":false,"ticks":false,"grid":false,"domain":false,"titleFont":"Liberation Sans Narrow, DejaVu Sans Condensed, sans-serif","titleFontWeight":"bold","titleFontSize":22,"titleColor":"#000","titleX":-22,"titleY":100,"titleAlign":"center","titleBaseline":"bottom","titleAngle":-90}}}},
{"data":{"name":"wk"},"mark":{"type":"line","interpolate":"step-after","color":"#555","strokeWidth":1.3},"encoding":{"x":{"field":"day","type":"quantitative"},"y":{"field":"ez","type":"quantitative"}}},
{"data":{"name":"wk"},"mark":{"type":"line","interpolate":"step-after","color":"#1a1a1a","strokeWidth":1.5},"encoding":{"x":{"field":"day","type":"quantitative"},"y":{"field":"mz","type":"quantitative"}}},
{"data":{"name":"wk"},"mark":{"type":"line","color":"#9a9a9a","strokeWidth":1.6},"encoding":{"x":{"field":"day","type":"quantitative"},"y":{"field":"ring","type":"quantitative"}}},
{"data":{"values":[{"day":0}]},"mark":{"type":"rule","color":"#444","strokeWidth":1.2},"encoding":{"x":{"field":"day","type":"quantitative"},"y":{"datum":-3,"type":"quantitative"},"y2":{"datum":75.3}}},
{"data":{"values":[{"day":365},{"day":730}]},"mark":{"type":"rule","strokeDash":[9,5],"color":"#111","strokeWidth":1.6},"encoding":{"x":{"field":"day","type":"quantitative"},"y":{"datum":-25.6,"type":"quantitative"},"y2":{"datum":137}}},
{"data":{"values":[{"day":1.1,"v":88,"text":"90 Cell Numbers"},{"day":169.3,"v":88,"text":"In Cambial Zone"},{"day":326.7,"v":88,"text":"In Enlargement Zone"},{"day":3.3,"v":79.5,"text":"In Maturation Zone"},{"day":211.7,"v":79.5,"text":"Cell Number in Ring"}]},
 "mark":{"type":"text","align":"left","baseline":"middle","font":"DejaVu Sans","fontSize":11,"color":"#8a8a8a"},
 "encoding":{"x":{"field":"day","type":"quantitative"},"y":{"field":"v","type":"quantitative"},"text":{"field":"text"}}},
{"data":{"values":[{"day":183.5,"v":128.8,"text":"1989"},{"day":533,"v":129,"text":"1990"},{"day":882.5,"v":128,"text":"1991"}]},
 "mark":{"type":"text","align":"center","baseline":"middle","font":"Liberation Sans","fontWeight":"bold","fontSize":24,"color":"#111"},
 "encoding":{"x":{"field":"day","type":"quantitative"},"y":{"field":"v","type":"quantitative"},"text":{"field":"text"}}},
{"data":{"values":[{"day":180.2,"v":50.5,"text":"Cambial Zone"},{"day":440.2,"v":70.8,"text":"Number"},{"day":435.3,"v":49,"text":"in Ring"},{"day":629.1,"v":95.6,"text":"Enlargement Zone"},{"day":872.8,"v":94.1,"text":"Maturation Zone"}]},
 "mark":{"type":"text","align":"center","baseline":"middle","font":"Liberation Sans","fontWeight":"bold","fontStyle":"italic","fontSize":22},
 "encoding":{"x":{"field":"day","type":"quantitative"},"y":{"field":"v","type":"quantitative"},"text":{"field":"text"},
  "color":{"field":"text","type":"nominal","scale":{"domain":["Cambial Zone","Number","in Ring","Enlargement Zone","Maturation Zone"],"range":["#6a6a6a","#777777","#777777","#7a7a7a","#151515"]},"legend":null}}},
{"data":{"values":[{"day":93.4,"day2":266,"v":44.4,"text":"Cambial Zone"},{"day":391.9,"day2":488.5,"v":61.7,"text":"Number"},{"day":391.9,"day2":478.7,"v":40.7,"text":"in Ring"},{"day":516.7,"day2":741.4,"v":88.1,"text":"Enlargement Zone"},{"day":774,"day2":971.6,"v":86.6,"text":"Maturation Zone"}]},
 "mark":{"type":"rule","strokeWidth":1.8},
 "encoding":{"x":{"field":"day","type":"quantitative"},"x2":{"field":"day2"},"y":{"field":"v","type":"quantitative"},
  "color":{"field":"text","type":"nominal","scale":{"domain":["Cambial Zone","Number","in Ring","Enlargement Zone","Maturation Zone"],"range":["#6a6a6a","#777777","#777777","#7a7a7a","#151515"]},"legend":null}}},
{"data":{"values":[{"day":180.2,"v":42.9,"day2":123.2,"v2":19.0},{"day":188.9,"v":42.9,"day2":230.6,"v2":25.7},{"day":388.6,"v":35.4,"day2":334.0,"v2":25.9},{"day":565.6,"v":79.1,"day2":527.7,"v2":45.1},{"day":576.4,"v":80.6,"day2":591.0,"v2":20.3},{"day":771.8,"v":86.6,"day2":688.9,"v2":69.2},{"day":978.1,"v":85.8,"day2":1013.3,"v2":65.1}]},
 "mark":{"type":"rule","color":"#333","strokeWidth":1.3},
 "encoding":{"x":{"field":"day","type":"quantitative"},"y":{"field":"v","type":"quantitative"},"x2":{"field":"day2"},"y2":{"field":"v2"}}},
{"data":{"values":[{"day":123.2,"v":19.0,"dir":239},{"day":230.6,"v":25.7,"dir":121},{"day":334.0,"v":25.9,"dir":256},{"day":527.7,"v":45.1,"dir":218},{"day":591.0,"v":20.3,"dir":171},{"day":688.9,"v":69.2,"dir":253},{"day":1013.3,"v":65.1,"dir":130}]},
 "mark":{"type":"point","shape":"M0,-1L0.45,1L-0.45,1Z","filled":true,"size":420,"color":"#222","opacity":1},
 "encoding":{"x":{"field":"day","type":"quantitative"},"y":{"field":"v","type":"quantitative"},"angle":{"field":"dir","type":"quantitative","scale":null}}}
]
},
{
"width":1006,"height":138,
"layer":[
{"data":{"name":"prec"},"mark":{"type":"rule","color":"#333","strokeWidth":1.2},
 "encoding":{
  "x":{"field":"day","type":"quantitative","scale":{"domain":[0,1092],"nice":false,"zero":false},
   "axis":{"values":[0,31,59,90,120,151,181,212,243,273,304,334,365,396,424,455,485,516,546,577,608,638,669,699,730,761,789,820,850,881,911,942,973,1003,1034,1064],"tickCount":40,"labelExpr":"month(datetime(1989,0,1+datum.value))==0 ? ['J', '' + year(datetime(1989,0,1+datum.value))] : substring(timeFormat(datetime(1989,0,1+datum.value),'%b'),0,1)","labelOffset":10,"labelFlush":false,"labelOverlap":false,"labelAlign":"center","labelBaseline":"top","labelPadding":1,"labelLineHeight":11,"labelFont":"DejaVu Sans","labelFontSize":10,"labelColor":"#555","tickSize":5,"tickColor":"#555","domainColor":"#222","domainWidth":1.6,"title":null,"grid":false}},
  "y":{"field":"prec","type":"quantitative","scale":{"domain":[0,65.5],"nice":false,"zero":false},
   "axis":{"title":"VALUE","labels":false,"ticks":false,"grid":false,"domain":false,"titleFont":"Liberation Sans Narrow, DejaVu Sans Condensed, sans-serif","titleFontWeight":"bold","titleFontSize":27,"titleColor":"#000","titleX":-22,"titleY":72,"titleAlign":"center","titleBaseline":"bottom","titleAngle":-90}},
  "y2":{"datum":0}}},
{"data":{"values":[{}]},"mark":{"type":"rule","color":"#888","strokeWidth":1.3},"encoding":{"y":{"datum":8,"type":"quantitative"}}},
{"data":{"name":"wk"},"mark":{"type":"line","color":"#777","strokeWidth":1.1},"encoding":{"x":{"field":"day","type":"quantitative"},"y":{"field":"temp","type":"quantitative"}}},
{"data":{"values":[{"day":0}]},"mark":{"type":"rule","color":"#444","strokeWidth":1.2},"encoding":{"x":{"field":"day","type":"quantitative"},"y":{"datum":0,"type":"quantitative"},"y2":{"datum":50.3}}},
{"data":{"values":[{"day":365},{"day":730}]},"mark":{"type":"rule","strokeDash":[9,5],"color":"#111","strokeWidth":1.6},"encoding":{"x":{"field":"day","type":"quantitative"},"y":{"datum":-14.2,"type":"quantitative"},"y2":{"datum":65.5}}},
{"data":{"values":[{"day":0,"v":61.2,"text":"60  Temp+10,(C)"},{"day":0,"v":55.5,"text":"60  Prec.(mm)"}]},
 "mark":{"type":"text","align":"left","baseline":"middle","font":"DejaVu Sans","fontSize":11,"color":"#9a9a9a"},
 "encoding":{"x":{"field":"day","type":"quantitative"},"y":{"field":"v","type":"quantitative"},"text":{"field":"text"}}},
{"data":{"values":[{"day":260,"v":58.8,"text":"Temperature"},{"day":625.8,"v":61.2,"text":"Precipitation"}]},
 "mark":{"type":"text","align":"center","baseline":"middle","font":"Liberation Sans","fontWeight":"bold","fontStyle":"italic","fontSize":22,"color":"#555"},
 "encoding":{"x":{"field":"day","type":"quantitative"},"y":{"field":"v","type":"quantitative"},"text":{"field":"text"}}},
{"data":{"values":[{"day":180.2,"day2":339.8,"v":55},{"day":548.2,"day2":703.4,"v":55.5}]},
 "mark":{"type":"rule","strokeWidth":1.8,"color":"#555"},
 "encoding":{"x":{"field":"day","type":"quantitative"},"x2":{"field":"day2"},"y":{"field":"v","type":"quantitative"}}},
{"data":{"values":[{"day":249.7,"v":51.7,"day2":229.9,"v2":30.9},{"day":611.2,"v":54.1,"day2":569.4,"v2":18.0},{"day":624.2,"v":53.1,"day2":742.4,"v2":29.0}]},
 "mark":{"type":"rule","color":"#333","strokeWidth":1.3},
 "encoding":{"x":{"field":"day","type":"quantitative"},"y":{"field":"v","type":"quantitative"},"x2":{"field":"day2"},"y2":{"field":"v2"}}},
{"data":{"values":[{"day":229.9,"v":30.9,"dir":202},{"day":569.4,"v":18.0,"dir":207},{"day":742.4,"v":29.0,"dir":115}]},
 "mark":{"type":"point","shape":"M0,-1L0.45,1L-0.45,1Z","filled":true,"size":420,"color":"#222","opacity":1},
 "encoding":{"x":{"field":"day","type":"quantitative"},"y":{"field":"v","type":"quantitative"},"angle":{"field":"dir","type":"quantitative","scale":null}}}
]
},
{
"width":1006,"height":134,
"resolve":{"scale":{"color":"independent"}},
"layer":[
{"data":{"name":"wk"},"mark":{"type":"line","color":"#8a8a8a","strokeWidth":1.1},
 "encoding":{
  "x":{"field":"day","type":"quantitative","scale":{"domain":[0,1092],"nice":false,"zero":false},
   "axis":{"values":[0,31,59,90,120,151,181,212,243,273,304,334,365,396,424,455,485,516,546,577,608,638,669,699,730,761,789,820,850,881,911,942,973,1003,1034,1064],"tickCount":40,"labelExpr":"month(datetime(1989,0,1+datum.value))==0 ? ['J', '' + year(datetime(1989,0,1+datum.value))] : substring(timeFormat(datetime(1989,0,1+datum.value),'%b'),0,1)","labelOffset":10,"labelFlush":false,"labelOverlap":false,"labelAlign":"center","labelBaseline":"top","labelPadding":1,"labelLineHeight":11,"labelFont":"DejaVu Sans","labelFontSize":10,"labelColor":"#555","tickSize":5,"tickColor":"#555","domainColor":"#222","domainWidth":1.6,"title":null,"grid":false}},
  "y":{"field":"res","type":"quantitative","scale":{"domain":[-0.03,1.052],"nice":false,"zero":false},
   "axis":{"title":"VALUE","labels":false,"ticks":false,"grid":false,"domain":false,"titleFont":"Liberation Sans Narrow, DejaVu Sans Condensed, sans-serif","titleFontWeight":"bold","titleFontSize":27,"titleColor":"#000","titleX":-22,"titleY":71,"titleAlign":"center","titleBaseline":"bottom","titleAngle":-90}}}},
{"data":{"name":"wk"},"mark":{"type":"line","color":"#b0b0b0","strokeWidth":1.4},"encoding":{"x":{"field":"day","type":"quantitative"},"y":{"field":"ps","type":"quantitative"}}},
{"data":{"name":"wk"},"mark":{"type":"line","color":"#555","strokeWidth":1.3},"encoding":{"x":{"field":"day","type":"quantitative"},"y":{"field":"tr","type":"quantitative"}}},
{"data":{"name":"wk"},"mark":{"type":"line","color":"#111","strokeWidth":1.5},"encoding":{"x":{"field":"day","type":"quantitative"},"y":{"field":"soil","type":"quantitative"}}},
{"data":{"values":[{"day":0}]},"mark":{"type":"rule","color":"#444","strokeWidth":1.2},"encoding":{"x":{"field":"day","type":"quantitative"},"y":{"datum":-0.03,"type":"quantitative"},"y2":{"datum":0.842}}},
{"data":{"values":[{"day":365},{"day":730}]},"mark":{"type":"rule","strokeDash":[9,5],"color":"#111","strokeWidth":1.6},"encoding":{"x":{"field":"day","type":"quantitative"},"y":{"datum":-0.312,"type":"quantitative"},"y2":{"datum":1.052}}},
{"data":{"values":[{"day":0,"v":1.003,"text":"1. 0  Photosynthesis/Pmax"},{"day":250.8,"v":1.003,"text":"(Max-Min) - Resistance"}]},
 "mark":{"type":"text","align":"left","baseline":"middle","font":"DejaVu Sans","fontSize":11,"color":"#c4c4c4"},
 "encoding":{"x":{"field":"day","type":"quantitative"},"y":{"field":"v","type":"quantitative"},"text":{"field":"text"}}},
{"data":{"values":[{"day":0,"v":0.914,"text":"100% - Avail. Soil Moist."},{"day":276.8,"v":0.914,"text":"2.90 - Transpiration"}]},
 "mark":{"type":"text","align":"left","baseline":"middle","font":"DejaVu Sans","fontSize":11,"color":"#4a4a4a"},
 "encoding":{"x":{"field":"day","type":"quantitative"},"y":{"field":"v","type":"quantitative"},"text":{"field":"text"}}},
{"data":{"values":[{"day":109.1,"v":0.704,"text":"Water Stress"},{"day":105.3,"v":0.462,"text":"(Resistance)"},{"day":437.5,"v":0.721,"text":"Photosynthesis"},{"day":723,"v":0.866,"text":"Available Soil Moisture"},{"day":1000,"v":0.987,"text":"Transpiration"}]},
 "mark":{"type":"text","align":"center","baseline":"middle","font":"Liberation Sans","fontWeight":"bold","fontStyle":"italic","fontSize":22},
 "encoding":{"x":{"field":"day","type":"quantitative"},"y":{"field":"v","type":"quantitative"},"text":{"field":"text"},
  "color":{"field":"text","type":"nominal","scale":{"domain":["Water Stress","(Resistance)","Photosynthesis","Available Soil Moisture","Transpiration"],"range":["#666666","#666666","#8a8a8a","#1a1a1a","#333333"]},"legend":null}}},
{"data":{"values":[{"day":28.2,"day2":182.4,"v":0.382,"text":"(Resistance)"},{"day":342,"day2":533,"v":0.64,"text":"Photosynthesis"},{"day":581.8,"day2":864.1,"v":0.785,"text":"Available Soil Moisture"},{"day":922.7,"day2":1086.6,"v":0.906,"text":"Transpiration"}]},
 "mark":{"type":"rule","strokeWidth":1.8},
 "encoding":{"x":{"field":"day","type":"quantitative"},"x2":{"field":"day2"},"y":{"field":"v","type":"quantitative"},
  "color":{"field":"text","type":"nominal","scale":{"domain":["(Resistance)","Photosynthesis","Available Soil Moisture","Transpiration"],"range":["#666666","#8a8a8a","#1a1a1a","#333333"]},"legend":null}}},
{"data":{"values":[{"day":111.8,"v":0.333,"day2":156.0,"v2":0.202},{"day":399.5,"v":0.640,"day2":308.6,"v2":0.364},{"day":434.2,"v":0.624,"day2":485.1,"v2":0.448},{"day":665.4,"v":0.696,"day2":611.3,"v2":0.294},{"day":676.3,"v":0.737,"day2":718.1,"v2":0.378},{"day":993.3,"v":0.898,"day2":966.1,"v2":0.797},{"day":1005.2,"v":0.882,"day2":1051.6,"v2":0.46}]},
 "mark":{"type":"rule","color":"#333","strokeWidth":1.3},
 "encoding":{"x":{"field":"day","type":"quantitative"},"y":{"field":"v","type":"quantitative"},"x2":{"field":"day2"},"y2":{"field":"v2"}}},
{"data":{"values":[{"day":156.0,"v":0.202,"dir":112},{"day":308.6,"v":0.364,"dir":248},{"day":485.1,"v":0.448,"dir":115},{"day":611.3,"v":0.294,"dir":225},{"day":718.1,"v":0.378,"dir":139},{"day":966.1,"v":0.797,"dir":243},{"day":1051.6,"v":0.46,"dir":141}]},
 "mark":{"type":"point","shape":"M0,-1L0.45,1L-0.45,1Z","filled":true,"size":420,"color":"#222","opacity":1},
 "encoding":{"x":{"field":"day","type":"quantitative"},"y":{"field":"v","type":"quantitative"},"angle":{"field":"dir","type":"quantitative","scale":null}}}
]
}
]
}
